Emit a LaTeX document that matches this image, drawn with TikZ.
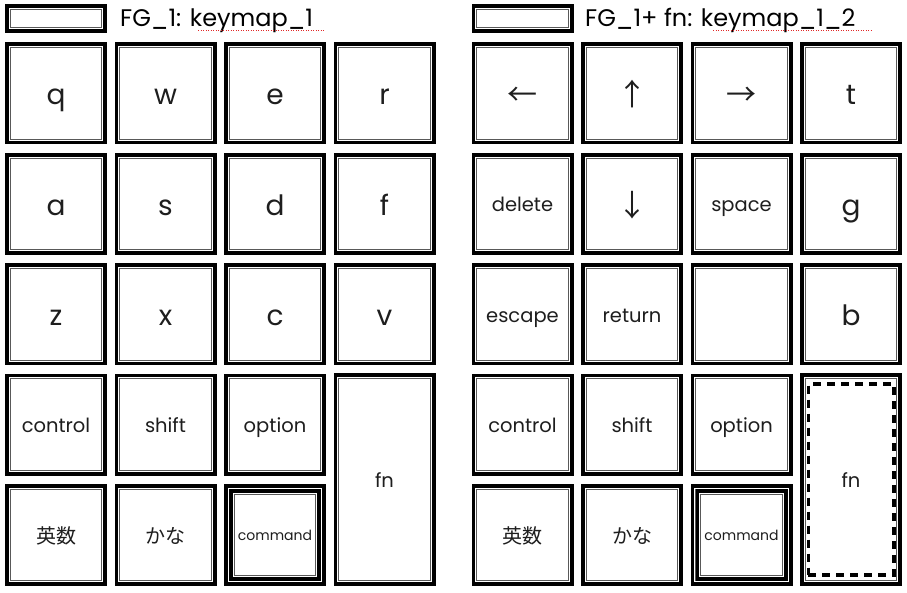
\documentclass[tikz,border=0pt]{standalone}
\usepackage{fontspec}
\setmainfont{Poppins}
\newfontfamily\jfont{Noto Sans CJK JP}
\definecolor{txt}{RGB}{30,30,30}
\definecolor{spellred}{RGB}{225,40,40}
\begin{document}
\begin{tikzpicture}[x=1pt,y=-1pt,
  keybox/.style={draw=black, line width=3.6pt, fill=white, minimum width=98.4pt, minimum height=98.4pt,
    inner sep=0pt, text=txt,
    path picture={\draw[line width=0.9pt, black!65]
      ([shift={(3.4pt,3.4pt)}]path picture bounding box.south west) rectangle
      ([shift={(-3.4pt,-3.4pt)}]path picture bounding box.north east);}},
  big/.style={font=\fontsize{28}{30}\selectfont, text height=25.8pt, text depth=2.8pt},
  mid/.style={font=\fontsize{19.5}{22}\selectfont, text height=17.9pt, text depth=1.95pt},
  small/.style={font=\fontsize{14}{16}\selectfont, text height=12.9pt, text depth=1.4pt},
  jp/.style={font=\jfont\fontsize{20}{22}\selectfont, text height=18.4pt, text depth=2pt},
  arr/.style={font=\jfont\fontsize{30}{32}\selectfont, text height=27.6pt, text depth=3pt},
  hdr/.style={font=\fontsize{24}{26}\selectfont, text=black, inner sep=0pt, anchor=base west},
  spell/.style={spellred, line width=1pt, dash pattern=on 1pt off 1.5pt},
  dashbox/.style={draw=black, line width=3.6pt, dash pattern=on 8pt off 6pt, minimum width=85.4pt, minimum height=191.4pt, inner sep=0pt}
]
\useasboundingbox (0,0) rectangle (907,593);

% ---------- left panel ----------
\node[keybox, minimum height=25.4pt] (hbL) at (56,18.5) {};
\node[hdr] (tL) at (120,27) {FG\_1: keymap\_1};
\coordinate (uL1) at (198,31); \coordinate (uL2) at (325,31);
\draw[spell] (uL1) -- (uL2);

\node[keybox, big] (Lq) at (56,93.5) {q};
\node[keybox, big] (Lw) at (165.5,93.5) {w};
\node[keybox, big] (Le) at (275,93.5) {e};
\node[keybox, big] (Lr) at (384.5,93.5) {r};

\node[keybox, big] (La) at (56,204) {a};
\node[keybox, big] (Ls) at (165.5,204) {s};
\node[keybox, big] (Ld) at (275,204) {d};
\node[keybox, big] (Lf) at (384.5,204) {f};

\node[keybox, big] (Lz) at (56,314.2) {z};
\node[keybox, big] (Lx) at (165.5,314.2) {x};
\node[keybox, big] (Lc) at (275,314.2) {c};
\node[keybox, big] (Lv) at (384.5,314.2) {v};

\node[keybox, mid] (Lctrl) at (56,424.5) {control};
\node[keybox, mid] (Lshift) at (165.5,424.5) {shift};
\node[keybox, mid] (Lopt) at (275,424.5) {option};

\node[keybox, jp] (Leisu) at (56,535) {英数};
\node[keybox, jp] (Lkana) at (165.5,535) {かな};
\node[keybox] (Lcmd) at (275,535) {};
\node[keybox, small, minimum width=88.4pt, minimum height=88.4pt] (Lcmdi) at (275,535) {command};

\node[keybox, mid, minimum height=209.4pt] (Lfn) at (384.5,479.5) {fn};

% ---------- right panel ----------
\node[keybox, minimum height=25.4pt] (hbR) at (522.5,18.5) {};
\node[hdr] (tR) at (585,27) {FG\_1+ fn: keymap\_1\_2};
\coordinate (uR1) at (713,31); \coordinate (uR2) at (872,31);
\draw[spell] (uR1) -- (uR2);

\node[keybox, arr] (Rleft) at (522.5,93.5) {←};
\node[keybox, arr] (Rup) at (632,93.5) {↑};
\node[keybox, arr] (Rright) at (741.5,93.5) {→};
\node[keybox, big] (Rt) at (851,93.5) {t};

\node[keybox, mid] (Rdel) at (522.5,204) {delete};
\node[keybox, arr] (Rdown) at (632,204) {↓};
\node[keybox, mid] (Rspace) at (741.5,204) {space};
\node[keybox, big] (Rg) at (851,204) {g};

\node[keybox, mid] (Resc) at (522.5,314.2) {escape};
\node[keybox, mid] (Rret) at (632,314.2) {return};
\node[keybox] (Rempty) at (741.5,314.2) {};
\node[keybox, big] (Rb) at (851,314.2) {b};

\node[keybox, mid] (Rctrl) at (522.5,424.5) {control};
\node[keybox, mid] (Rshift) at (632,424.5) {shift};
\node[keybox, mid] (Ropt) at (741.5,424.5) {option};

\node[keybox, jp] (Reisu) at (522.5,535) {英数};
\node[keybox, jp] (Rkana) at (632,535) {かな};
\node[keybox] (Rcmd) at (741.5,535) {};
\node[keybox, small, minimum width=88.4pt, minimum height=88.4pt] (Rcmdi) at (741.5,535) {command};

\node[keybox, minimum height=209.4pt] (Rfn) at (851,479.5) {};
\node[dashbox] (Rfnd) at (851,479.5) {};
\node[mid, text=txt, inner sep=0pt] (Rfnt) at (851,479.5) {fn};
\end{tikzpicture}
\end{document}
